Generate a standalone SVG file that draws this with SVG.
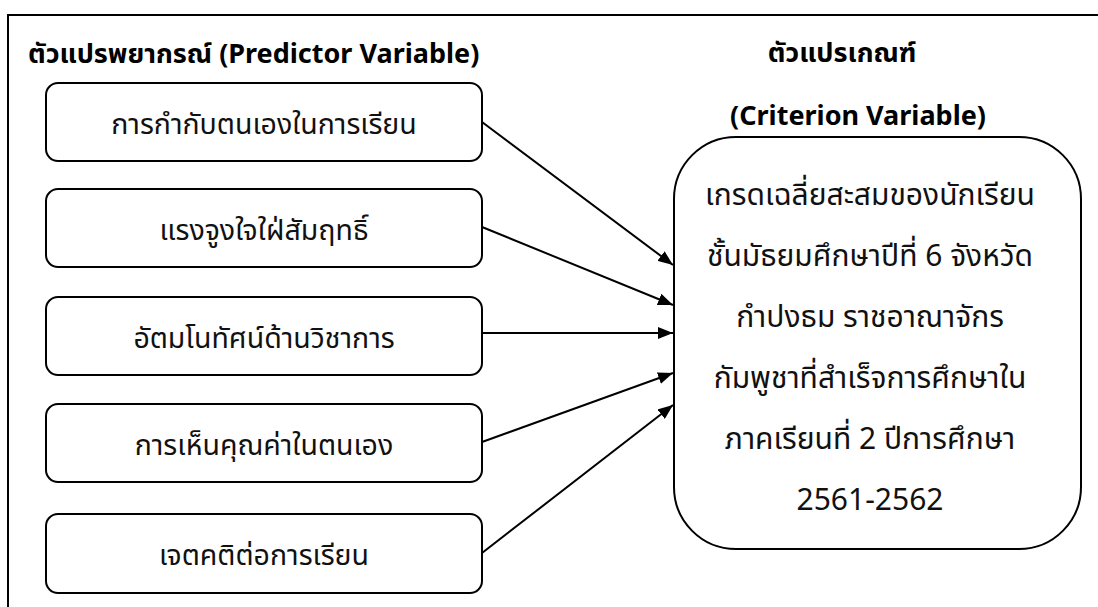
<svg xmlns="http://www.w3.org/2000/svg" width="1098" height="607" viewBox="0 0 1098 607">
<style>
.t{font-family:"Noto Sans","Noto Sans Thai","Loma","DejaVu Sans",sans-serif;fill:#000}
.h{font-size:27px;font-weight:bold}
.b{font-size:28.5px;text-anchor:middle;fill:#111}
.r{font-size:30px;text-anchor:middle;fill:#111}
.box{fill:#fff;stroke:#000;stroke-width:2}
.c{stroke:#000;stroke-width:2;fill:none}
</style>
<defs>
<marker id="ah" viewBox="0 0 15 12" refX="15" refY="6" markerWidth="15" markerHeight="12" markerUnits="userSpaceOnUse" orient="auto">
<path d="M0,0 L15,6 L0,12 z" fill="#000"/>
</marker>
</defs>
<rect width="1098" height="607" fill="#fff"/>
<g id="frame"><path d="M8,607 V15 H1098" class="c"/></g>
<text class="t h" x="28" y="63">ตัวแปรพยากรณ์ (Predictor Variable)</text>
<text class="t h" x="842" y="62" text-anchor="middle">ตัวแปรเกณฑ์</text>
<text class="t h" x="858" y="125" text-anchor="middle">(Criterion Variable)</text>
<g id="n1"><rect class="box" x="46" y="83" width="436" height="78" rx="12"/><text class="t b" x="264" y="134">การกำกับตนเองในการเรียน</text></g>
<g id="n2"><rect class="box" x="46" y="189" width="436" height="78" rx="12"/><text class="t b" x="264" y="240">แรงจูงใจใฝ่สัมฤทธิ์</text></g>
<g id="n3"><rect class="box" x="46" y="297" width="436" height="78" rx="12"/><text class="t b" x="264" y="348">อัตมโนทัศน์ด้านวิชาการ</text></g>
<g id="n4"><rect class="box" x="46" y="404" width="436" height="78" rx="12"/><text class="t b" x="264" y="455">การเห็นคุณค่าในตนเอง</text></g>
<g id="n5"><rect class="box" x="46" y="514" width="436" height="79" rx="12"/><text class="t b" x="264" y="565">เจตคติต่อการเรียน</text></g>
<g id="target"><rect class="box" x="674" y="137" width="407" height="412" rx="62"/>
<text class="t r" x="870" y="205">เกรดเฉลี่ยสะสมของนักเรียน</text>
<text class="t r" x="870" y="266">ชั้นมัธยมศึกษาปีที่ 6 จังหวัด</text>
<text class="t r" x="870" y="327">กำปงธม ราชอาณาจักร</text>
<text class="t r" x="870" y="388">กัมพูชาที่สำเร็จการศึกษาใน</text>
<text class="t r" x="870" y="449">ภาคเรียนที่ 2 ปีการศึกษา</text>
<text class="t r" x="870" y="510">2561-2562</text>
</g>
<g id="connectors">
<line class="c" x1="482" y1="122" x2="673" y2="265" marker-end="url(#ah)"/>
<line class="c" x1="482" y1="227" x2="673" y2="305" marker-end="url(#ah)"/>
<line class="c" x1="482" y1="333" x2="673" y2="333" marker-end="url(#ah)"/>
<line class="c" x1="482" y1="442" x2="673" y2="373" marker-end="url(#ah)"/>
<line class="c" x1="482" y1="553" x2="673" y2="405" marker-end="url(#ah)"/>
</g>
</svg>
